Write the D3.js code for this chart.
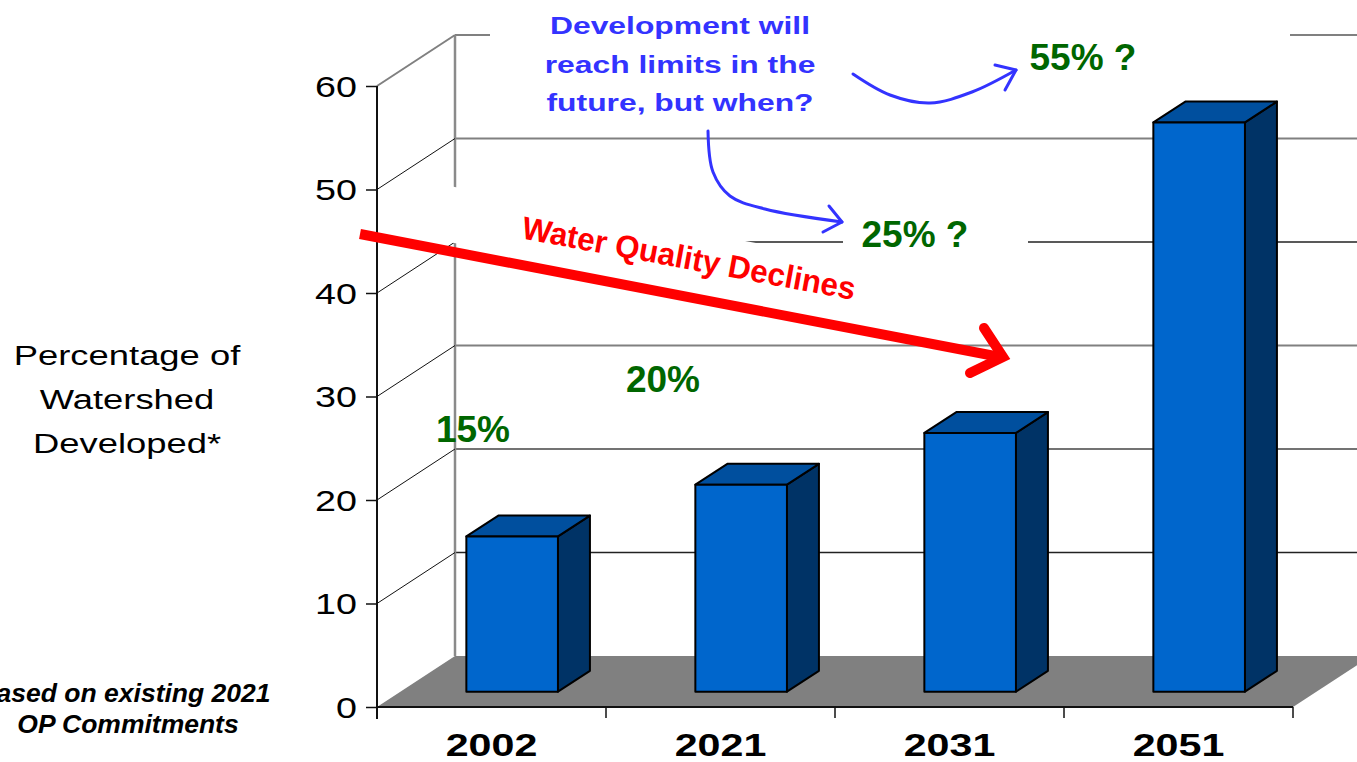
<!DOCTYPE html>
<html>
<head>
<meta charset="utf-8">
<script src="https://cdn.jsdelivr.net/npm/d3@7"></script>
<style>
  body { margin: 0; background: #fff; }
  svg { display: block; font-family: "Liberation Sans", Arial, sans-serif; }
</style>
</head>
<body>
<svg id="chart" width="1357" height="762"></svg>
<script>
// chart data
const years = ["2002", "2021", "2031", "2051"];
const developed = [15, 20, 25, 55];
const yTicks = [0, 10, 20, 30, 40, 50, 60];
const pctLabels = ["15%", "20%", "25% ?", "55% ?"];
const titleLines = ["Percentage of", "Watershed", "Developed*"];
const noteLines = ["Based on existing 2021", "OP Commitments"];
const calloutLines = ["Development will", "reach limits in the", "future, but when?"];

const svg = d3.select("#chart");
const W = 1357;

// 3d depth offset of the plot box
const DX = 78, DY = -51;
const F0 = 0.3, F1 = 0.71; // bar depth (front, back) as fraction

const y = d3.scaleLinear().domain([0, 60]).range([707, 86]);
const x = d3.scaleBand().domain(years).range([377, 1293])
  .paddingInner(0.6).paddingOuter(0.3).align(0.48);

const pt = p => p.join(",");
const poly = pts => pts.map(pt).join(" ");

// floor
const y0 = y(0);
svg.append("polygon")
  .attr("points", poly([[377, y0], [377 + DX, y0 + DY], [1293 + DX, y0 + DY], [1293, y0]]))
  .attr("fill", "#808080");

// back wall gridlines
const gridColor = {60: "#808080", 50: "#808080", 40: "#222", 30: "#808080", 20: "#444", 10: "#222"};
svg.append("g").selectAll("line")
  .data(yTicks.filter(d => d > 0))
  .join("line")
  .attr("x1", 377 + DX).attr("x2", W + 20)
  .attr("y1", d => y(d) + DY).attr("y2", d => y(d) + DY)
  .attr("stroke", d => gridColor[d])
  .attr("stroke-width", d => gridColor[d] === "#808080" ? 2 : 1.3);

// back wall vertical edge
svg.append("line")
  .attr("x1", 377 + DX).attr("x2", 377 + DX)
  .attr("y1", y(60) + DY).attr("y2", y(0) + DY)
  .attr("stroke", "#8a8a8a").attr("stroke-width", 2.5);

// left wall diagonals
svg.append("g").selectAll("line")
  .data(yTicks.filter(d => d > 0))
  .join("line")
  .attr("x1", 377).attr("y1", d => y(d))
  .attr("x2", 377 + DX).attr("y2", d => y(d) + DY)
  .attr("stroke", d => d === 60 ? "#808080" : "#111")
  .attr("stroke-width", d => d === 60 ? 2 : 1);

// white boxes behind text boxes (they hide gridlines)
svg.append("rect").attr("x", 490).attr("y", 22).attr("width", 800).attr("height", 28).attr("fill", "#fff");
svg.append("rect").attr("x", 843).attr("y", 215).attr("width", 185).attr("height", 40).attr("fill", "#fff");
const redC = [689, 258], redAng = 10.5;
svg.append("rect")
  .attr("transform", `translate(${redC}) rotate(${redAng})`)
  .attr("x", -246).attr("y", -27).attr("width", 432).attr("height", 55)
  .attr("fill", "#fff");

// front axis
svg.append("line").attr("x1", 377).attr("x2", 377).attr("y1", y(60)).attr("y2", y(0) + 12)
  .attr("stroke", "#111").attr("stroke-width", 2);
svg.append("line").attr("x1", 377).attr("x2", 1293).attr("y1", y(0)).attr("y2", y(0))
  .attr("stroke", "#111").attr("stroke-width", 2);
const bounds = [377, 606, 835, 1064, 1293];
svg.append("g").selectAll("line").data(bounds).join("line")
  .attr("x1", d => d).attr("x2", d => d)
  .attr("y1", y(0)).attr("y2", y(0) + 11)
  .attr("stroke", "#111").attr("stroke-width", 1.5);

const yAxis = svg.append("g")
  .attr("transform", "translate(377,0)")
  .call(d3.axisLeft(y).tickValues(yTicks).tickSize(11).tickPadding(8));
yAxis.select(".domain").remove();
yAxis.selectAll(".tick line").attr("stroke", "#111").attr("stroke-width", 1.5);
yAxis.selectAll(".tick text")
  .attr("font-size", 29).attr("fill", "#000")
  .attr("font-family", "Liberation Sans, Arial, sans-serif")
  .attr("x", -20 / 1.3).attr("dy", "0.36em")
  .attr("transform", "scale(1.3,1)");

// bars
const bars = svg.append("g").selectAll("g")
  .data(years.map((d, i) => ({year: d, v: developed[i]})))
  .join("g");
bars.each(function (d) {
  const g = d3.select(this);
  const xl = x(d.year) + F0 * DX, xr = xl + x.bandwidth();
  const yb = y(0) + F0 * DY, yt = y(d.v) + F0 * DY;
  const ddx = (F1 - F0) * DX, ddy = (F1 - F0) * DY;
  const st = s => s.attr("stroke", "#000").attr("stroke-width", 2).attr("stroke-linejoin", "round");
  st(g.append("polygon").attr("points", poly([[xr, yb], [xr + ddx, yb + ddy], [xr + ddx, yt + ddy], [xr, yt]])).attr("fill", "#003366"));
  st(g.append("polygon").attr("points", poly([[xl, yt], [xl + ddx, yt + ddy], [xr + ddx, yt + ddy], [xr, yt]])).attr("fill", "#004f9e"));
  st(g.append("rect").attr("x", xl).attr("y", yt).attr("width", xr - xl).attr("height", yb - yt).attr("fill", "#0066cc"));
});

// stretched text helper
function label(x0, y0, txt, o) {
  const g = svg.append("g").attr("transform", `translate(${x0},${y0}) scale(${o.sx || 1},1)`);
  return g.append("text").text(txt)
    .attr("text-anchor", o.anchor || "middle")
    .attr("font-size", o.size)
    .attr("font-weight", o.weight || "normal")
    .attr("font-style", o.style || "normal")
    .attr("fill", o.fill || "#000");
}

// category labels
years.forEach((d, i) => label(491.5 + i * 229, 756, d, {size: 31, weight: "bold", sx: 1.33}));

// y title
titleLines.forEach((t, i) => label(127, 365 + i * 44, t, {size: 28, sx: 1.3}));

// footnote
label(124, 702, noteLines[0], {size: 26.5, weight: "bold", style: "italic"});
label(128, 733, noteLines[1], {size: 26.5, weight: "bold", style: "italic"});

// callout text
calloutLines.forEach((t, i) => label(680, 34 + i * 38.5, t, {size: 24.5, weight: "bold", sx: 1.3, fill: "#3333ff"}));

// green value labels
const pctPos = [[473, 442], [663, 392], [915, 247], [1083, 70]];
pctLabels.forEach((t, i) => label(pctPos[i][0], pctPos[i][1], t, {size: 37, weight: "bold", fill: "#006600"}));

// red annotation
svg.append("text")
  .attr("transform", `translate(${redC}) rotate(${redAng}) scale(0.98,1)`)
  .attr("text-anchor", "middle").attr("dy", "0.35em")
  .attr("font-size", 32).attr("font-weight", "bold").attr("fill", "#ff0000")
  .text("Water Quality Declines");

svg.append("line").attr("x1", 360).attr("y1", 234).attr("x2", 1000).attr("y2", 357)
  .attr("stroke", "#ff0000").attr("stroke-width", 10);
svg.append("path").attr("d", "M984,328 L1003,357 L970,373")
  .attr("fill", "none").attr("stroke", "#ff0000").attr("stroke-width", 10)
  .attr("stroke-linecap", "round").attr("stroke-linejoin", "miter");

// blue curved arrows
const curve = d3.line().curve(d3.curveCatmullRom);
const blue = s => s.attr("fill", "none").attr("stroke", "#3333ff").attr("stroke-width", 3)
  .attr("stroke-linecap", "round").attr("stroke-linejoin", "round");
blue(svg.append("path").attr("d", curve([[853, 74], [890, 95], [930, 103], [972, 92], [1016, 70]])));
blue(svg.append("path").attr("d", "M995,65 L1016,70 L1005,90"));
blue(svg.append("path").attr("d", curve([[708, 131], [713, 172], [730, 196], [765, 209], [842, 222]])));
blue(svg.append("path").attr("d", "M829,206 L842,222 L823,232"));
</script>
</body>
</html>
